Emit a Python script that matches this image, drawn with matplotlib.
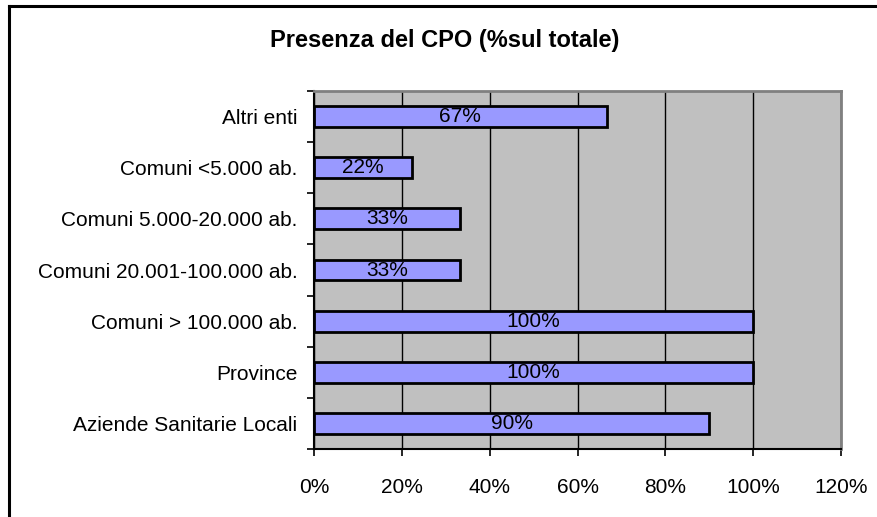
import matplotlib
matplotlib.use("Agg")
import matplotlib.pyplot as plt
from matplotlib.lines import Line2D

categories = [
    "Aziende Sanitarie Locali",
    "Province",
    "Comuni > 100.000 ab.",
    "Comuni 20.001-100.000 ab.",
    "Comuni 5.000-20.000 ab.",
    "Comuni <5.000 ab.",
    "Altri enti",
]
values = [90.0, 100.0, 100.0, 33.33, 33.33, 22.22, 66.67]
bar_labels = ["90%", "100%", "100%", "33%", "33%", "22%", "67%"]
xticks = [0, 20, 40, 60, 80, 100, 120]
xtick_labels = ["0%", "20%", "40%", "60%", "80%", "100%", "120%"]

plt.rcParams["font.family"] = ["Liberation Sans", "DejaVu Sans"]

W, H = 877, 517
fig = plt.figure(figsize=(W / 100, H / 100), dpi=100)
ax = fig.add_axes([314 / W, 1 - 449 / H, (841 - 314) / W, (449 - 91) / H])

ax.set_facecolor("#c0c0c0")
ypos = list(range(len(categories)))
bars = ax.barh(ypos, values, height=0.41, color="#9999ff",
               edgecolor="black", linewidth=2.0, zorder=3)
for b, lab in zip(bars, bar_labels):
    ax.text(b.get_width() / 2, b.get_y() + b.get_height() / 2, lab,
            ha="center", va="center", fontsize=15, zorder=4)

ax.set_xlim(0, 120)
ax.set_ylim(-0.5, len(categories) - 0.5)
ax.set_xticks(xticks)
ax.set_xticklabels(xtick_labels, fontsize=15)
ax.set_yticks(ypos)
ax.set_yticklabels(categories, fontsize=15)
ax.set_yticks([i - 0.5 for i in range(len(categories) + 1)], minor=True)
ax.tick_params(axis="y", which="major", length=0, pad=12)
ax.tick_params(axis="y", which="minor", length=5, width=1.2, direction="out")
ax.tick_params(axis="x", length=5, width=1.2, direction="out", pad=16)

ax.grid(axis="x", color="black", linewidth=1.0, zorder=1)
ax.set_axisbelow(True)

ax.spines["left"].set_color("black")
ax.spines["bottom"].set_color("black")
ax.spines["left"].set_linewidth(1.5)
ax.spines["bottom"].set_linewidth(1.5)
ax.spines["top"].set_color("#808080")
ax.spines["right"].set_color("#808080")
ax.spines["top"].set_linewidth(2)
ax.spines["right"].set_linewidth(2)

fig.text(445 / W, 1 - 41 / H, "Presenza del CPO (%sul totale)",
         ha="center", va="center", fontsize=17, fontweight="bold")

# outer chart border (left and top edges visible)
fig.add_artist(Line2D([9 / W, 9 / W], [0, 1 - 6 / H], color="black",
                      linewidth=2.2, transform=fig.transFigure))
fig.add_artist(Line2D([9 / W, 1], [1 - 6 / H, 1 - 6 / H], color="black",
                      linewidth=2.2, transform=fig.transFigure))

fig.savefig("out.png", dpi=100)
